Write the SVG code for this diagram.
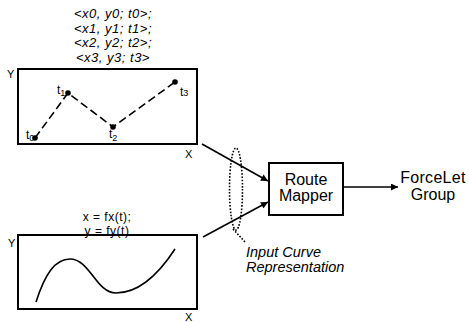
<svg xmlns="http://www.w3.org/2000/svg" width="469" height="322" viewBox="0 0 469 322">
<style>
text{font-family:"Liberation Sans",Arial,sans-serif;fill:#000}
.it{font-style:italic}
.box{fill:none;stroke:#000;stroke-width:2}
.ln{fill:none;stroke:#000;stroke-width:1.6}
.dash{fill:none;stroke:#000;stroke-width:1.6;stroke-dasharray:8 4}
.dot{fill:none;stroke:#000;stroke-width:1.6;stroke-dasharray:1.6 1.6}
.ax{font-size:11px}
.lbl{font-size:12px}
.sub{font-size:9px}
.pts{font-size:13px;letter-spacing:0.5px}
.fn{font-size:12px;letter-spacing:0.5px}
</style>
<defs>
<marker id="ah" viewBox="0 0 10 10" refX="10" refY="5" markerWidth="9" markerHeight="7" markerUnits="userSpaceOnUse" orient="auto">
<path d="M0,0 L10,5 L0,10 Z" fill="#000"/>
</marker>
</defs>
<g id="points-plot">
<text class="it pts" text-anchor="middle" x="113" y="18">&lt;x0, y0; t0&gt;;</text>
<text class="it pts" text-anchor="middle" x="113" y="32.5">&lt;x1, y1; t1&gt;;</text>
<text class="it pts" text-anchor="middle" x="113" y="47">&lt;x2, y2; t2&gt;;</text>
<text class="it pts" text-anchor="middle" x="113" y="61.5">&lt;x3, y3; t3&gt;</text>
<rect class="box" x="18" y="69" width="179" height="75"/>
<text class="ax" x="7" y="78">Y</text>
<text class="ax" x="185" y="158">X</text>
<polyline class="dash" points="35,138 68,93 113,127 175,82"/>
<circle cx="35" cy="138" r="2.8"/>
<circle cx="68" cy="93" r="2.8"/>
<circle cx="113" cy="127" r="2.8"/>
<circle cx="175" cy="82" r="2.8"/>
<text class="lbl" x="26" y="139">t<tspan class="sub" dy="2">0</tspan></text>
<text class="lbl" x="57" y="94">t<tspan class="sub" dy="2">1</tspan></text>
<text class="lbl" x="109" y="138">t<tspan class="sub" dy="3">2</tspan></text>
<text class="lbl" x="180" y="96">t<tspan class="sub" dy="0">3</tspan></text>
</g>
<g id="function-plot">
<text class="fn" text-anchor="middle" x="107" y="221">x = fx(t);</text>
<text class="fn" text-anchor="middle" x="107" y="234.5">y = fy(t)</text>
<rect class="box" x="18" y="235" width="179" height="74"/>
<text class="ax" x="8" y="247">Y</text>
<text class="ax" x="185" y="321">X</text>
<path class="ln" d="M36,302 C45,274 55,259 70,259 C90,259 96,293 116,293 C140,293 160,272 175,249"/>
</g>
<g id="route-mapper">
<rect class="box" x="269" y="163" width="74" height="52"/>
<text font-size="16" text-anchor="middle" x="306" y="185">Route</text>
<text font-size="16" text-anchor="middle" x="306" y="201">Mapper</text>
</g>
<g id="forcelet-group">
<text font-size="16" text-anchor="middle" x="433" y="183" letter-spacing="0.3">ForceLet</text>
<text font-size="16" text-anchor="middle" x="433" y="200">Group</text>
</g>
<g id="input-curve-note">
<ellipse class="dot" cx="236" cy="189" rx="6.5" ry="41"/>
<path class="dot" d="M233,229 L245,242"/>
<text class="it" font-size="14.5" x="246" y="257">Input Curve</text>
<text class="it" font-size="14.5" x="246" y="272">Representation</text>
</g>
<g id="connectors">
<line class="ln" x1="202" y1="144" x2="268" y2="181" marker-end="url(#ah)"/>
<line class="ln" x1="203" y1="237" x2="268" y2="202" marker-end="url(#ah)"/>
<line class="ln" x1="343" y1="187" x2="398" y2="187" marker-end="url(#ah)"/>
</g>
</svg>
